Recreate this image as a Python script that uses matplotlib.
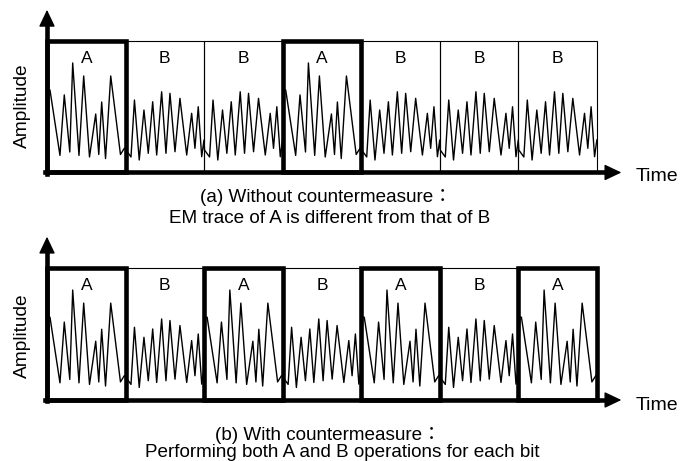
import matplotlib
matplotlib.use("Agg")
import matplotlib.pyplot as plt
from matplotlib.patches import Rectangle
import numpy as np

# ---------------- data ----------------
seq_top = ["A", "B", "B", "A", "B", "B", "B"]
seq_bottom = ["A", "B", "A", "B", "A", "B", "A"]

# waveform of operation A within one bit slot (t: fraction of slot, v: amplitude 0..1)
wave_A_t = [0.02, 0.038, 0.165, 0.22, 0.29, 0.327, 0.407, 0.467, 0.541, 0.62,
            0.659, 0.696, 0.745, 0.811, 0.935, 0.986]
wave_A_v = [0.63, 0.627, 0.13, 0.59, 0.156, 0.833, 0.13, 0.734, 0.118, 0.445,
            0.137, 0.536, 0.106, 0.734, 0.137, 0.186]
# waveform of operation B within one bit slot
wave_B_t = [0.005, 0.069, 0.113, 0.174, 0.234, 0.289, 0.345, 0.396, 0.459, 0.514,
            0.565, 0.629, 0.692, 0.778, 0.841, 0.883, 0.925, 0.969, 0.998]
wave_B_v = [0.171, 0.118, 0.551, 0.095, 0.475, 0.146, 0.538, 0.133, 0.614, 0.146,
            0.602, 0.158, 0.564, 0.133, 0.45, 0.184, 0.5, 0.12, 0.247]

captions_top = ["(a) Without countermeasure\uff1a", "EM trace of A is different from that of B"]
captions_bottom = ["(b) With countermeasure\uff1a", "Performing both A and B operations for each bit"]
ylabel = "Amplitude"
xlabel = "Time"

# ---------------- figure ----------------
W, H = 692, 461
fig = plt.figure(figsize=(W / 100, H / 100), dpi=100)
FONT = ["Liberation Sans", "Noto Sans CJK JP", "DejaVu Sans"]
plt.rcParams["font.family"] = FONT


def px(x, y):
    return x / W, 1 - y / H


def draw_panel(ax, seq):
    n = len(seq)
    ax.set_xlim(0, n)
    ax.set_ylim(0, 1)
    ax.axis("off")
    # thin slot boxes
    for i in range(n):
        ax.add_patch(Rectangle((i, 0), 1, 1, fill=False, lw=0.8, ec="black",
                               zorder=1, clip_on=False))
    # waveform
    xs, ys = [], []
    for i, op in enumerate(seq):
        t = wave_A_t if op == "A" else wave_B_t
        v = wave_A_v if op == "A" else wave_B_v
        xs.extend(i + np.array(t))
        ys.extend(v)
    ax.plot(xs, ys, color="black", lw=1.0, zorder=2, clip_on=False)
    # thick A boxes
    for i, op in enumerate(seq):
        if op == "A":
            ax.add_patch(Rectangle((i, 0), 1, 1, fill=False, lw=3.3, ec="black",
                                   zorder=3, clip_on=False, joinstyle="miter"))
    # labels
    for i, op in enumerate(seq):
        ax.text(i + 0.5, 0.83, op, ha="center", va="baseline", fontsize=12.5,
                family=FONT, zorder=5)
    # axes with arrows
    ytip = 1.237
    xtip = n + 0.31
    ax.plot([0, 0], [-0.01, ytip - 0.08], color="black", lw=3.3,
            solid_capstyle="projecting", zorder=4, clip_on=False)
    ax.plot([-0.02, xtip - 0.12], [0, 0], color="black", lw=3.3,
            solid_capstyle="projecting", zorder=4, clip_on=False)
    hs = "-|>,head_length=1.05,head_width=0.5"
    ax.annotate("", xy=(0, ytip), xytext=(0, ytip - 0.2),
                arrowprops=dict(arrowstyle=hs, mutation_scale=10, lw=1, color="black",
                                shrinkA=0, shrinkB=0), zorder=6, annotation_clip=False)
    ax.annotate("", xy=(xtip, 0), xytext=(xtip - 0.3, 0),
                arrowprops=dict(arrowstyle=hs, mutation_scale=10, lw=1, color="black",
                                shrinkA=0, shrinkB=0), zorder=6, annotation_clip=False)


ax1 = fig.add_axes([47 / W, (H - 172.5) / H, 550 / W, 131.5 / H])
draw_panel(ax1, seq_top)
ax2 = fig.add_axes([47 / W, (H - 400) / H, 550 / W, 132 / H])
draw_panel(ax2, seq_bottom)

# axis labels
fig.text(*px(22, 106), ylabel, rotation=90, ha="center", va="center", fontsize=13.8)
fig.text(*px(22, 336), ylabel, rotation=90, ha="center", va="center", fontsize=13.8)
fig.text(*px(636, 181), xlabel, ha="left", va="baseline", fontsize=14)
fig.text(*px(636, 410), xlabel, ha="left", va="baseline", fontsize=14)

# captions
fig.text(*px(326, 202), captions_top[0], ha="center", va="baseline", fontsize=13.6)
fig.text(*px(330, 223), captions_top[1], ha="center", va="baseline", fontsize=13.6)
fig.text(*px(328, 440), captions_bottom[0], ha="center", va="baseline", fontsize=13.6)
fig.text(*px(342, 457), captions_bottom[1], ha="center", va="baseline", fontsize=13.6)

fig.savefig("out.png", dpi=100)
